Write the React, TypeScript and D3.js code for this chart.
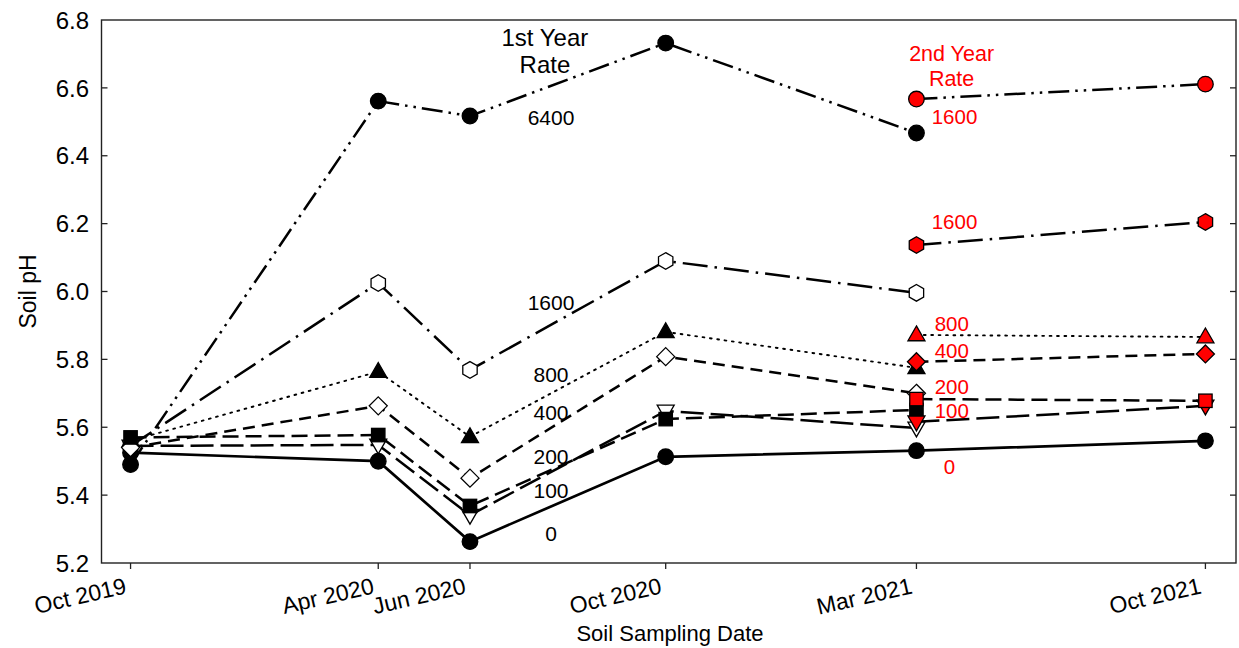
import React from "react";
import * as d3 from "d3";

// Sampling dates (UTC) and their axis labels
const sampleDates = [
  Date.UTC(2019, 9, 31),
  Date.UTC(2020, 3, 10),
  Date.UTC(2020, 5, 9),
  Date.UTC(2020, 9, 15),
  Date.UTC(2021, 2, 28),
  Date.UTC(2021, 9, 3),
];
const dateLabels = ["Oct 2019", "Apr 2020", "Jun 2020", "Oct 2020", "Mar 2021", "Oct 2021"];
const yTicks = [5.2, 5.4, 5.6, 5.8, 6.0, 6.2, 6.4, 6.6, 6.8];

// First-year application rates: soil pH at each sampling date
const ph0 = [5.525, 5.5, 5.263, 5.513, 5.531, 5.56];
const ph100 = [5.545, 5.548, 5.341, 5.648, 5.598];
const ph200 = [5.57, 5.577, 5.368, 5.624, 5.651];
const ph400 = [5.54, 5.663, 5.45, 5.808, 5.7];
const ph800 = [5.56, 5.764, 5.572, 5.881, 5.775];
const ph1600 = [5.545, 6.025, 5.769, 6.09, 5.996];
const ph6400 = [5.49, 6.561, 6.517, 6.732, 6.467];

// Second-year rates, sampled Mar 2021 and Oct 2021
const second1600on6400 = [6.567, 6.611];
const second1600 = [6.137, 6.205];
const second800 = [5.872, 5.866];
const second400 = [5.793, 5.816];
const second200 = [5.683, 5.678];
const second100 = [5.616, 5.663];

const W = 1239;
const H = 648;
const left = 101.5;
const right = 1236;
const top = 20;
const bottom = 563;

const x = d3
  .scaleUtc()
  .domain([new Date(Date.UTC(2019, 9, 12)), new Date(Date.UTC(2021, 9, 23))])
  .range([left, right]);
const y = d3.scaleLinear().domain([5.2, 6.8]).range([bottom, top]);

type Shape = "circle" | "triDown" | "square" | "diamond" | "triUp" | "hexagon";

const lineStyles: Record<string, { dash: string; width: number }> = {
  r0: { dash: "", width: 2.7 },
  r100: { dash: "23,7", width: 2.5 },
  r200: { dash: "16,7", width: 2.5 },
  r400: { dash: "12,7", width: 2.5 },
  r800: { dash: "1.8,5.6", width: 1.9 },
  r1600: { dash: "25,7,2.5,7", width: 2.5 },
  r6400: { dash: "21,6,2.5,6,2.5,6", width: 2.5 },
};

type Series = {
  values: number[];
  dates: number[];
  shape: Shape;
  fill: string;
  style: string;
};

const firstDates = sampleDates;
const lateDates = sampleDates.slice(4);

// Drawing order: later entries sit on top
const series: Series[] = [
  { values: ph0, dates: firstDates, shape: "circle", fill: "#000", style: "r0" },
  { values: ph6400, dates: firstDates, shape: "circle", fill: "#000", style: "r6400" },
  { values: ph800, dates: firstDates, shape: "triUp", fill: "#000", style: "r800" },
  { values: ph1600, dates: firstDates, shape: "hexagon", fill: "#fff", style: "r1600" },
  { values: ph100, dates: firstDates, shape: "triDown", fill: "#fff", style: "r100" },
  { values: ph400, dates: firstDates, shape: "diamond", fill: "#fff", style: "r400" },
  { values: ph200, dates: firstDates, shape: "square", fill: "#000", style: "r200" },
  { values: second1600on6400, dates: lateDates, shape: "circle", fill: "#ff0000", style: "r6400" },
  { values: second1600, dates: lateDates, shape: "hexagon", fill: "#ff0000", style: "r1600" },
  { values: second800, dates: lateDates, shape: "triUp", fill: "#ff0000", style: "r800" },
  { values: second100, dates: lateDates, shape: "triDown", fill: "#ff0000", style: "r100" },
  { values: second400, dates: lateDates, shape: "diamond", fill: "#ff0000", style: "r400" },
  { values: second200, dates: lateDates, shape: "square", fill: "#ff0000", style: "r200" },
];

// Rate annotations placed in data units (date, pH)
const firstRateLabels = ["6400", "1600", "800", "400", "200", "100", "0"];
const firstRateLevels = [6.514, 5.969, 5.757, 5.645, 5.515, 5.415, 5.288];
const secondRateLabels = ["1600", "1600", "800", "400", "200", "100", "0"];
const secondRateLevels = [6.514, 6.205, 5.904, 5.825, 5.719, 5.648, 5.483];
const firstLabelDate = Date.UTC(2020, 7, 1);
const secondLabelDate = Date.UTC(2021, 3, 7);
const firstTitleDate = Date.UTC(2020, 6, 28);
const secondTitleDate = Date.UTC(2021, 3, 20);

const FONT = "'Liberation Sans', Arial, Helvetica, sans-serif";

function pts(list: number[][]) {
  return list.map((p) => p.join(",")).join(" ");
}

function Marker({ shape, cx, cy, fill }: { shape: Shape; cx: number; cy: number; fill: string }) {
  const common = { fill, stroke: "#000", strokeWidth: 1.3 };
  switch (shape) {
    case "circle":
      return <circle cx={cx} cy={cy} r={7.8} {...common} />;
    case "square":
      return <rect x={cx - 6.7} y={cy - 6.7} width={13.4} height={13.4} {...common} />;
    case "triUp":
      return <polygon points={pts([[cx, cy - 9], [cx + 8.5, cy + 5.8], [cx - 8.5, cy + 5.8]])} {...common} />;
    case "triDown":
      return <polygon points={pts([[cx - 8.5, cy - 5.8], [cx + 8.5, cy - 5.8], [cx, cy + 9]])} {...common} />;
    case "diamond":
      return <polygon points={pts([[cx, cy - 9], [cx + 9, cy], [cx, cy + 9], [cx - 9, cy]])} {...common} />;
    case "hexagon": {
      const r = 8.3;
      const p = d3.range(6).map((k) => {
        const a = ((-90 + 60 * k) * Math.PI) / 180;
        return [cx + r * Math.cos(a), cy + r * Math.sin(a)];
      });
      return <polygon points={pts(p)} {...common} />;
    }
  }
  return null;
}

export default function App() {
  const line = d3
    .line<[number, number]>()
    .x((d) => x(new Date(d[0])))
    .y((d) => y(d[1]));

  return (
    <svg
      width={W}
      height={H}
      viewBox={`0 0 ${W} ${H}`}
      style={{ position: "absolute", left: 0, top: 0, background: "#fff" }}
      fontFamily={FONT}
    >
      <rect width={W} height={H} fill="#fff" />

      {/* lines */}
      {series.map((s, i) => {
        const st = lineStyles[s.style];
        const data = s.values.map((v, j) => [s.dates[j], v] as [number, number]);
        return (
          <path
            key={"l" + i}
            d={line(data) || ""}
            fill="none"
            stroke="#000"
            strokeWidth={st.width}
            strokeDasharray={st.dash || undefined}
            strokeLinecap={s.style === "r800" ? "round" : "butt"}
          />
        );
      })}

      {/* markers */}
      {series.map((s, i) =>
        s.values.map((v, j) => (
          <Marker key={`m${i}-${j}`} shape={s.shape} cx={x(new Date(s.dates[j]))} cy={y(v)} fill={s.fill} />
        ))
      )}

      {/* frame */}
      <rect x={left} y={top} width={right - left} height={bottom - top} fill="none" stroke="#222" strokeWidth={1.4} />

      {/* y ticks and labels */}
      {yTicks.map((t) => (
        <g key={"y" + t}>
          {t > 5.2 && t < 6.8 && (
            <>
              <line x1={left} x2={left + 6} y1={y(t)} y2={y(t)} stroke="#222" strokeWidth={1.3} />
              <line x1={right - 6} x2={right} y1={y(t)} y2={y(t)} stroke="#222" strokeWidth={1.3} />
            </>
          )}
          <text x={89} y={y(t)} dy="0.36em" textAnchor="end" fontSize={24} fill="#000">
            {t.toFixed(1)}
          </text>
        </g>
      ))}

      {/* x ticks and labels */}
      {sampleDates.map((d, i) => {
        const px = x(new Date(d));
        return (
          <g key={"x" + i}>
            <line x1={px} x2={px} y1={bottom} y2={bottom + 6} stroke="#222" strokeWidth={1.3} />
            <text
              transform={`translate(${px - 3},${593}) rotate(-13)`}
              textAnchor="end"
              fontSize={23}
              fill="#000"
            >
              {dateLabels[i]}
            </text>
          </g>
        );
      })}

      {/* axis titles */}
      <text x={670} y={641} textAnchor="middle" fontSize={22} fill="#000">
        Soil Sampling Date
      </text>
      <text transform={`translate(36,${(top + bottom) / 2}) rotate(-90)`} textAnchor="middle" fontSize={23} fill="#000">
        Soil pH
      </text>

      {/* rate annotations */}
      <text x={x(new Date(firstTitleDate))} y={y(6.75)} dy="0.36em" textAnchor="middle" fontSize={24}>
        1st Year
      </text>
      <text x={x(new Date(firstTitleDate))} y={y(6.67)} dy="0.36em" textAnchor="middle" fontSize={24}>
        Rate
      </text>
      <text x={x(new Date(secondTitleDate))} y={y(6.703)} dy="0.36em" textAnchor="middle" fontSize={21.5} fill="#ff0000">
        2nd Year
      </text>
      <text x={x(new Date(secondTitleDate))} y={y(6.629)} dy="0.36em" textAnchor="middle" fontSize={21.5} fill="#ff0000">
        Rate
      </text>
      {firstRateLabels.map((lab, i) => (
        <text
          key={"fl" + i}
          x={x(new Date(firstLabelDate))}
          y={y(firstRateLevels[i])}
          dy="0.36em"
          textAnchor="middle"
          fontSize={21}
          fill="#000"
        >
          {lab}
        </text>
      ))}
      {secondRateLabels.map((lab, i) => (
        <text
          key={"sl" + i}
          x={x(new Date(secondLabelDate)) + (lab === "0" ? 12 : lab.length === 3 ? 3 : 0)}
          y={y(secondRateLevels[i])}
          dy="0.36em"
          textAnchor="start"
          fontSize={20.5}
          fill="#ff0000"
        >
          {lab}
        </text>
      ))}
    </svg>
  );
}
